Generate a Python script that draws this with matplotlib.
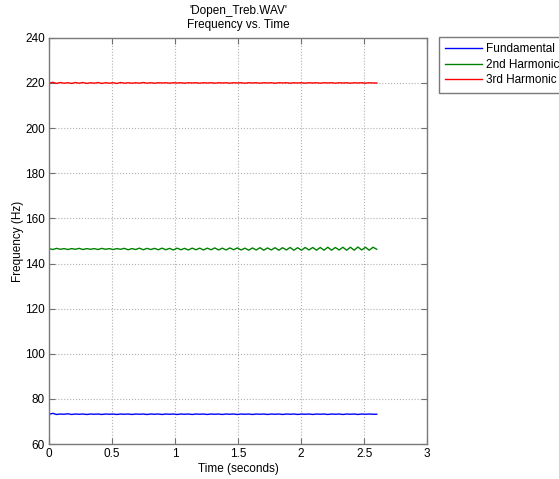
import matplotlib
matplotlib.use('Agg')
import matplotlib.pyplot as plt
import numpy as np

plt.rcParams['font.family'] = ['Liberation Sans', 'DejaVu Sans']

# time axis of the tracked pitch (seconds)
t = np.linspace(0, 2.6, 88)

# fundamental frequency track (Hz)
fundamental = [73.2, 73.6, 73.1, 73.3, 73.2, 73.4, 73.1, 73.3, 73.2, 73.3,
               73.1, 73.3, 73.2, 73.3, 73.1, 73.3, 73.2, 73.3, 73.1, 73.3,
               73.2, 73.3, 73.1, 73.3, 73.2, 73.3, 73.1, 73.3, 73.2, 73.3,
               73.1, 73.3, 73.2, 73.3, 73.1, 73.3, 73.2, 73.3, 73.1, 73.3,
               73.2, 73.3, 73.1, 73.3, 73.2, 73.3, 73.1, 73.3, 73.2, 73.3,
               73.1, 73.3, 73.2, 73.3, 73.1, 73.3, 73.2, 73.3, 73.1, 73.3,
               73.2, 73.3, 73.1, 73.3, 73.2, 73.3, 73.1, 73.3, 73.2, 73.3,
               73.1, 73.3, 73.2, 73.3, 73.1, 73.3, 73.2, 73.3, 73.1, 73.3,
               73.2, 73.3, 73.1, 73.3, 73.2, 73.3, 73.2, 73.2]

# 2nd harmonic track (Hz)
harm2 = [146.6, 146.2, 146.7, 146.3, 146.6, 146.2, 146.6, 146.3, 146.7, 146.2,
         146.6, 146.3, 146.6, 146.2, 146.7, 146.3, 146.6, 146.2, 146.6, 146.3,
         146.7, 146.1, 146.6, 146.2, 146.8, 146.1, 146.7, 146.2, 146.7, 146.1,
         146.8, 146.1, 146.7, 146.0, 146.8, 146.1, 146.7, 146.0, 146.8, 146.1,
         146.8, 146.0, 146.8, 146.1, 146.9, 146.0, 146.8, 146.0, 146.9, 146.1,
         146.9, 146.0, 146.8, 145.9, 146.9, 146.0, 147.0, 145.9, 146.9, 146.0,
         147.0, 145.9, 147.0, 146.0, 147.1, 145.9, 147.0, 145.9, 147.1, 146.0,
         147.1, 145.9, 147.1, 145.9, 147.2, 145.9, 147.1, 146.0, 147.2, 145.9,
         147.2, 145.9, 147.3, 146.0, 147.2, 145.9, 147.2, 146.3]

# 3rd harmonic track (Hz)
harm3 = [219.9, 220.3, 219.8, 220.2, 219.9, 220.1, 219.8, 220.2, 219.9, 220.2,
         219.8, 220.1, 219.9, 220.2, 219.8, 220.1, 219.9, 220.1, 219.8, 220.2,
         219.9, 220.1, 219.9, 220.1, 219.9, 220.2, 219.9, 220.1, 219.9, 220.1,
         220.0, 220.1, 219.9, 220.1, 220.0, 220.1, 219.9, 220.1, 220.0, 220.1,
         219.9, 220.1, 220.0, 220.1, 219.9, 220.1, 220.0, 220.1, 219.9, 220.1,
         220.0, 220.1, 219.9, 220.1, 220.0, 220.1, 219.9, 220.1, 220.0, 220.1,
         219.9, 220.1, 220.0, 220.1, 219.9, 220.1, 220.0, 220.1, 219.9, 220.1,
         220.0, 220.1, 219.9, 220.1, 220.0, 220.1, 219.9, 220.1, 220.0, 220.1,
         219.9, 220.1, 220.0, 220.1, 219.9, 220.1, 220.0, 220.0]

labels = ['Fundamental', '2nd Harmonic', '3rd Harmonic']

fig = plt.figure(figsize=(5.59, 4.79), dpi=100)
ax = fig.add_axes([0.0877, 0.073, 0.6765, 0.848])

ax.plot(t, fundamental, color='#0000ff', lw=1, label=labels[0])
ax.plot(t, harm2, color='#008000', lw=1, label=labels[1])
ax.plot(t, harm3, color='#ff0000', lw=1, label=labels[2])

ax.set_xlim(0, 3)
ax.set_ylim(60, 240)
ax.set_xticks(np.arange(0, 3.01, 0.5))
ax.set_xticklabels(['0', '0.5', '1', '1.5', '2', '2.5', '3'])
ax.set_yticks(np.arange(60, 241, 20))

ax.grid(True, linestyle=':', color='#b0b0b0', lw=0.8)
ax.tick_params(direction='in', top=True, right=True, length=4, labelsize=8.5, pad=3,
               color='#707070')
for sp in ax.spines.values():
    sp.set_color('#7a7a7a')
    sp.set_linewidth(1.0)

ax.set_title("'Dopen_Treb.WAV'\nFrequency vs. Time", fontsize=8.5, linespacing=1.2, pad=7)
ax.set_xlabel('Time (seconds)', fontsize=8.5, labelpad=2)
ax.set_ylabel('Frequency (Hz)', fontsize=8.5, labelpad=1)

leg = fig.legend(loc='upper left', bbox_to_anchor=(0.785, 0.923), borderaxespad=0,
                 fontsize=8.5, fancybox=False, handlelength=3.1, borderpad=0.55,
                 labelspacing=0.3, handletextpad=0.35, framealpha=1)
leg.get_frame().set_edgecolor('#7a7a7a')
leg.get_frame().set_linewidth(1.0)

fig.savefig('out.png', dpi=100)
